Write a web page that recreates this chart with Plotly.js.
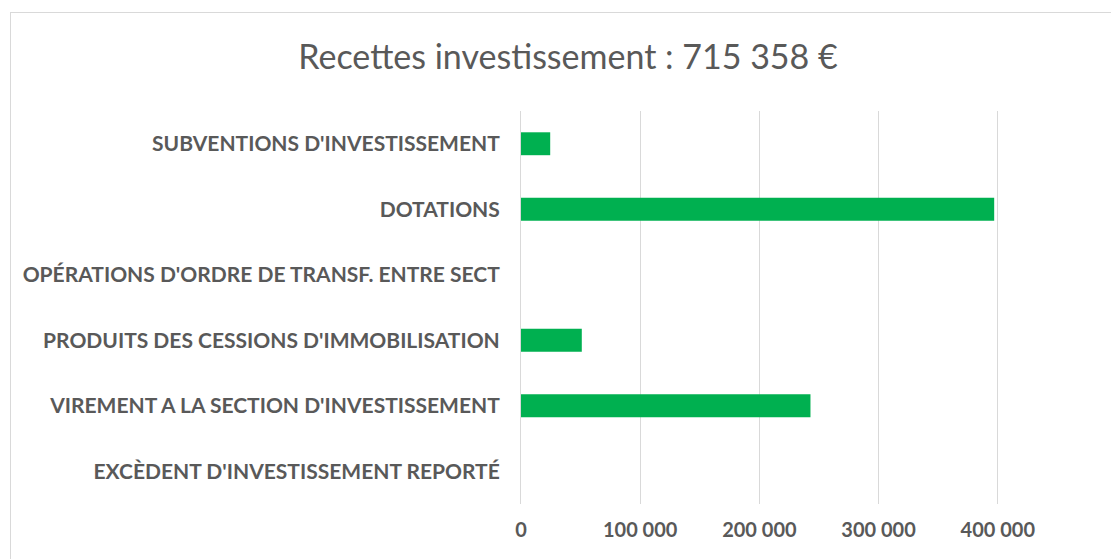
<!DOCTYPE html>
<html>
<head>
<meta charset="utf-8">
<script src="https://cdn.plot.ly/plotly-3.0.1.min.js"></script>
<style>
  html, body { margin: 0; padding: 0; background: #fff; overflow: hidden; }
  #chart {
    position: absolute;
    left: 10px;
    top: 12px;
    width: 1114px;
    height: 560px;
    border: 1px solid #d9d9d9;
  }
</style>
</head>
<body>
<div id="chart"></div>
<script>
// Categories, top to bottom as they appear in the chart
const categories = [
  "SUBVENTIONS D'INVESTISSEMENT",
  "DOTATIONS",
  "OPÉRATIONS D'ORDRE DE TRANSF. ENTRE SECT",
  "PRODUITS DES CESSIONS D'IMMOBILISATION",
  "VIREMENT A LA SECTION D'INVESTISSEMENT",
  "EXCÈDENT D'INVESTISSEMENT REPORTÉ"
];

// Amounts in euros
const amounts = [24500, 397000, 0, 51000, 242858, 0];

const valueTicks = [0, 100000, 200000, 300000, 400000];

const titleText = 'Recettes investissement : 715 358 €';

const barColor = '#00B050';
const textColor = '#595959';
const gridColor = '#d9d9d9';

const trace = {
  type: 'bar',
  orientation: 'h',
  x: amounts,
  y: categories,
  marker: { color: barColor },
  hovertemplate: '%{y}<br>%{x:,d} €<extra></extra>'
};

const layout = {
  width: 1114,
  height: 560,
  separators: ', ',
  paper_bgcolor: '#ffffff',
  plot_bgcolor: '#ffffff',
  showlegend: false,
  bargap: 0.65,
  margin: { l: 510, r: 14, t: 98, b: 69 },
  title: {
    text: titleText,
    x: 0.5,
    xref: 'container',
    y: 1 - 44 / 560,
    yref: 'container',
    yanchor: 'middle',
    font: { family: 'Lato, sans-serif', size: 34, color: textColor }
  },
  xaxis: {
    range: [0, 495000],
    tickvals: valueTicks,
    tickformat: ',d',
    showgrid: true,
    gridcolor: gridColor,
    gridwidth: 1,
    zeroline: false,
    showline: false,
    ticks: '',
    ticklabelstandoff: 12,
    fixedrange: true,
    tickfont: { family: 'Lato, sans-serif', size: 20, color: textColor, weight: 'bold' }
  },
  yaxis: {
    type: 'category',
    autorange: 'reversed',
    showgrid: false,
    zeroline: false,
    showline: true,
    linecolor: gridColor,
    linewidth: 1,
    ticks: '',
    ticklabelstandoff: 16,
    fixedrange: true,
    tickfont: { family: 'Lato, sans-serif', size: 21, color: textColor, weight: 'bold' }
  }
};

Plotly.newPlot('chart', [trace], layout, { displayModeBar: false, staticPlot: true });
</script>
</body>
</html>
